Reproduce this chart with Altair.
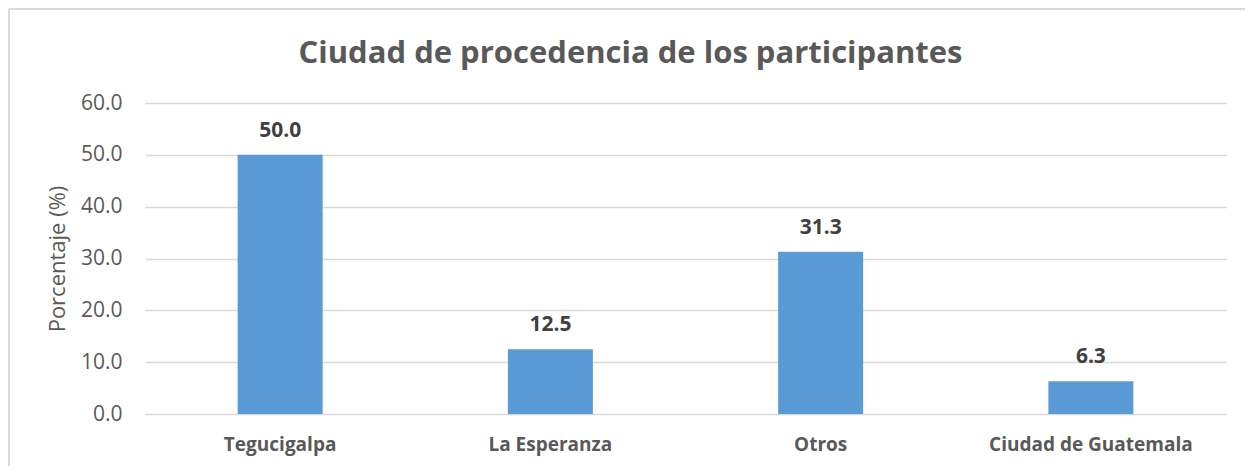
import altair as alt
import pandas as pd

categorias = ["Tegucigalpa", "La Esperanza", "Otros", "Ciudad de Guatemala"]
porcentajes = [50.0, 12.5, 31.3, 6.3]
y_ticks = [0, 10, 20, 30, 40, 50, 60]
titulo = "Ciudad de procedencia de los participantes"

df = pd.DataFrame({"ciudad": categorias, "pct": porcentajes})
frame_df = pd.DataFrame({"k": [0]})
title_df = pd.DataFrame({"t": [titulo]})

W, H = 1081, 311
PAD = {"left": 137, "top": 95, "right": 19, "bottom": 52}
FONT = "Open Sans"
GREY = "#595959"

x_enc = alt.X(
    "ciudad:N",
    sort=categorias,
    scale=alt.Scale(paddingInner=0, paddingOuter=0),
    axis=alt.Axis(
        title=None, labelAngle=0, labelFont=FONT, labelFontWeight="bold",
        labelFontSize=19, labelColor=GREY, labelPadding=21, labelLimit=400,
        ticks=False, domain=False, grid=False,
    ),
)
y_enc = alt.Y(
    "pct:Q",
    scale=alt.Scale(domain=[0, 60]),
    axis=alt.Axis(
        values=y_ticks, format=".1f", title="Porcentaje (%)",
        titleFont=FONT, titleFontSize=22, titleFontWeight="normal",
        titleColor=GREY, titlePadding=11,
        labelFont=FONT, labelFontSize=21, labelColor=GREY, labelPadding=23,
        ticks=False, domain=False, grid=True, gridColor="#d9d9d9", gridWidth=1.5,
    ),
)

bars = alt.Chart(df).mark_bar(size=85, color="#5B9BD5").encode(x=x_enc, y=y_enc)

labels = alt.Chart(df).mark_text(
    dy=-18, baseline="alphabetic", fontWeight="bold", fontSize=21,
    font=FONT, color="#404040",
).encode(x=x_enc, y=y_enc, text=alt.Text("pct:Q", format=".1f"))

title_text = alt.Chart(title_df).mark_text(
    font=FONT, fontSize=31, fontWeight="bold", color=GREY,
    align="center", baseline="alphabetic", clip=False,
).encode(x=alt.value(W / 2 - 55), y=alt.value(-40), text="t:N")

frame_top = alt.Chart(frame_df).mark_rule(color="#d9d9d9", strokeWidth=2, clip=False).encode(
    x=alt.value(-136), x2=alt.value(W + 30), y=alt.value(-94)
)
frame_left = alt.Chart(frame_df).mark_rule(color="#d9d9d9", strokeWidth=2, clip=False).encode(
    x=alt.value(-136), y=alt.value(-94), y2=alt.value(H + 60)
)

chart = alt.layer(frame_top, frame_left, bars, labels, title_text).properties(
    width=W,
    height=H,
    padding=PAD,
    autosize=alt.AutoSizeParams(type="none"),
).configure_view(stroke=None)

chart.save("out.html", embed_options={"renderer": "svg", "actions": False})
